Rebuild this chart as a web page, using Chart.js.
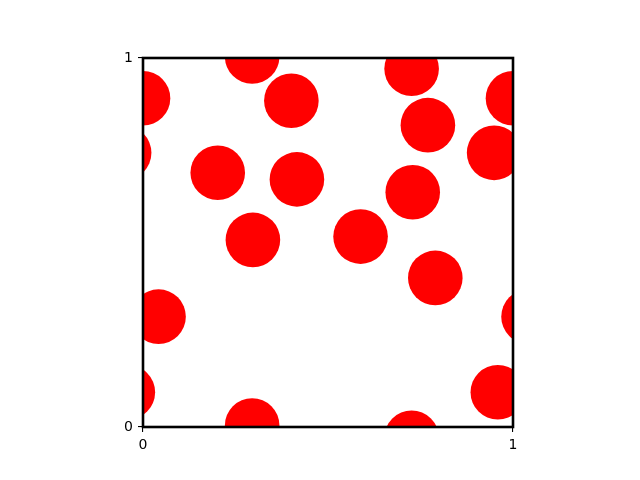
<!DOCTYPE html>
<html>
<head>
<meta charset="utf-8">
<script src="https://cdn.jsdelivr.net/npm/chart.js@4/dist/chart.umd.min.js"></script>
<style>
html,body{margin:0;padding:0;background:#fff;}
canvas{display:block;}
</style>
</head>
<body>
<canvas id="c" width="640" height="480"></canvas>
<script>
// Circle centres (data coordinates), periodic copies included
const xValues = [0.295, 0.295, 0.000, 1.000, 0.401, 0.726, 0.726, 0.770, 0.949, -0.051, 0.202, 0.416, 0.729, 0.297, 0.588, 0.790, 0.042, 1.042, 0.959, -0.041];
const yValues = [1.004, 0.004, 0.891, 0.891, 0.884, 0.971, -0.029, 0.818, 0.743, 0.743, 0.689, 0.671, 0.636, 0.507, 0.516, 0.404, 0.299, 0.299, 0.094, 0.094];
const xTickLabels = ["0", "1"];
const yTickLabels = ["0", "1"];

const points = xValues.map((x, i) => ({ x: x, y: yValues[i], r: 27.3 }));

const frame = {
  id: 'frame',
  afterDraw(chart) {
    const a = chart.chartArea, ctx = chart.ctx;
    ctx.save();
    ctx.strokeStyle = '#000';
    ctx.lineWidth = 2.6;
    ctx.strokeRect(a.left, a.top, a.right - a.left, a.bottom - a.top);
    ctx.restore();
  }
};

new Chart(document.getElementById('c'), {
  type: 'bubble',
  data: {
    datasets: [{
      data: points,
      backgroundColor: '#ff0000',
      borderWidth: 0,
      hoverBorderWidth: 0,
      clip: 0
    }]
  },
  options: {
    responsive: false,
    maintainAspectRatio: false,
    animation: false,
    events: [],
    layout: { padding: { left: 113, top: 58, right: 127, bottom: 23 } },
    plugins: { legend: { display: false }, tooltip: { enabled: false } },
    scales: {
      x: {
        type: 'linear', min: 0, max: 1,
        afterFit(s) { s.height = 30; },
        border: { display: false },
        grid: { drawOnChartArea: false, drawTicks: true, tickLength: 5, color: '#000', lineWidth: 1.1 },
        ticks: {
          stepSize: 1, padding: 5, color: '#000',
          font: { family: 'DejaVu Sans', size: 14 },
          callback: (v) => xTickLabels[Math.round(v)]
        }
      },
      y: {
        type: 'linear', min: 0, max: 1,
        afterFit(s) { s.width = 30; },
        border: { display: false },
        grid: { drawOnChartArea: false, drawTicks: true, tickLength: 5, color: '#000', lineWidth: 1.1 },
        ticks: {
          stepSize: 1, padding: 5, color: '#000',
          font: { family: 'DejaVu Sans', size: 14 },
          callback: (v) => yTickLabels[Math.round(v)]
        }
      }
    }
  },
  plugins: [frame]
});
</script>
</body>
</html>
